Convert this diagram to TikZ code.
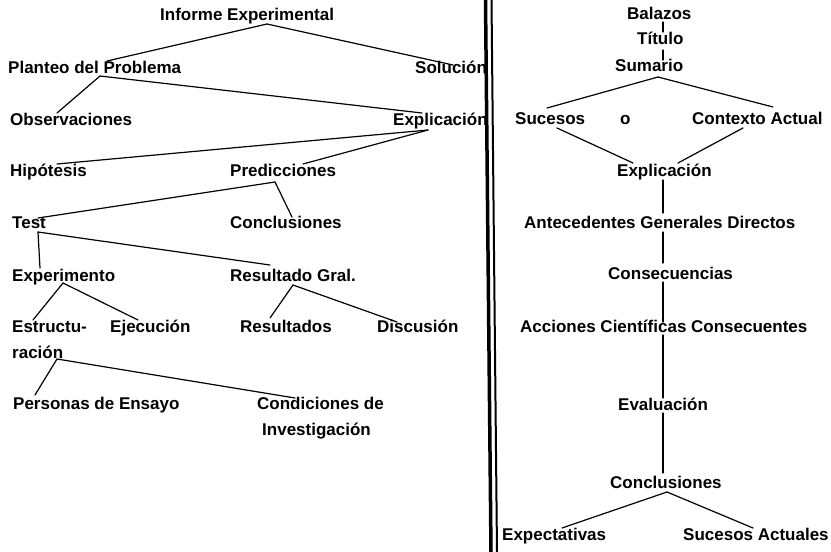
\documentclass[tikz,border=0pt]{standalone}
\usepackage{fontspec}
\setmainfont{Liberation Sans}
\begin{document}
\begin{tikzpicture}[x=1pt,y=-1pt,
  lbl/.style={anchor=base west, inner sep=0pt, font=\fontsize{17}{20}\selectfont\bfseries},
  link/.style={line width=1.2pt, line cap=round}]
\useasboundingbox (0,0) rectangle (831,552);

% ---- left tree: the experimental report ----
\node[lbl] (inf) at (160,20)  {Informe Experimental};
\node[lbl] (pla) at (8,73)    {Planteo del Problema};
\node[lbl] (sol) at (415,73)  {Solución};
\node[lbl] (obs) at (10,125)  {Observaciones};
\node[lbl] (exl) at (393,125) {Explicación};
\node[lbl] (hip) at (10,176)  {Hipótesis};
\node[lbl] (pre) at (230,176) {Predicciones};
\node[lbl] (tes) at (12,228)  {Test};
\node[lbl] (col) at (230,228) {Conclusiones};
\node[lbl] (exp) at (12,281)  {Experimento};
\node[lbl] (rgr) at (230,281) {Resultado Gral.};
\node[lbl] (est) at (12,332)  {Estructu-};
\node[lbl] (eje) at (110,332) {Ejecución};
\node[lbl] (res) at (240,332) {Resultados};
\node[lbl] (dis) at (377,332) {Discusión};
\node[lbl] (rac) at (12,358)  {ración};
\node[lbl] (per) at (13,409)  {Personas de Ensayo};
\node[lbl] (con) at (257,409) {Condiciones de};
\node[lbl] (inv) at (262,435) {Investigación};

\draw[link] ([xshift=107pt,yshift=-4pt]inf.base west) -- ([xshift=99pt,yshift=12pt]pla.base west);
\draw[link] ([xshift=107pt,yshift=-4pt]inf.base west) -- ([xshift=38pt,yshift=8pt]sol.base west);
\draw[link] ([xshift=92pt,yshift=-3pt]pla.base west) -- ([xshift=47pt,yshift=12pt]obs.base west);
\draw[link] ([xshift=92pt,yshift=-3pt]pla.base west) -- ([xshift=29pt,yshift=12pt]exl.base west);
\draw[link] ([xshift=35pt,yshift=-5pt]exl.base west) -- ([xshift=47pt,yshift=12pt]hip.base west);
\draw[link] ([xshift=35pt,yshift=-5pt]exl.base west) -- ([xshift=73pt,yshift=12pt]pre.base west);
\draw[link] ([xshift=45pt,yshift=-6pt]pre.base west) -- ([xshift=26pt,yshift=10pt]tes.base west);
\draw[link] ([xshift=45pt,yshift=-6pt]pre.base west) -- ([xshift=62pt,yshift=11pt]col.base west);
\draw[link] ([xshift=26pt,yshift=-4pt]tes.base west) -- ([xshift=28pt,yshift=13pt]exp.base west);
\draw[link] ([xshift=26pt,yshift=-4pt]tes.base west) -- ([xshift=40pt,yshift=16pt]rgr.base west);
\draw[link] ([xshift=51pt,yshift=-2pt]exp.base west) -- ([xshift=21pt,yshift=12pt]est.base west);
\draw[link] ([xshift=51pt,yshift=-2pt]exp.base west) -- ([xshift=28pt,yshift=12pt]eje.base west);
\draw[link] ([xshift=63pt,yshift=-4pt]rgr.base west) -- ([xshift=30pt,yshift=14pt]res.base west);
\draw[link] ([xshift=63pt,yshift=-4pt]rgr.base west) -- ([xshift=20pt,yshift=10pt]dis.base west);
\draw[link] ([xshift=45pt,yshift=-1pt]rac.base west) -- ([xshift=22pt,yshift=14pt]per.base west);
\draw[link] ([xshift=45pt,yshift=-1pt]rac.base west) -- ([xshift=38pt,yshift=11pt]con.base west);

% ---- double rule between the two schemes ----
\draw[line width=3.5pt] (485.5,0) -- (491,552);
\draw[line width=2pt] (491.5,0) -- (497,552);

% ---- right tree: the news report ----
\node[lbl] (bal) at (627,19)  {Balazos};
\node[lbl] (tit) at (637,44)  {Título};
\node[lbl] (sum) at (615,71)  {Sumario};
\node[lbl] (suc) at (515,124) {Sucesos};
\node[lbl] (oo)  at (620,124) {o};
\node[lbl] (ctx) at (692,124) {Contexto Actual};
\node[lbl] (exr) at (617,176) {Explicación};
\node[lbl] (ant) at (524,228) {Antecedentes Generales Directos};
\node[lbl] (cns) at (608,279) {Consecuencias};
\node[lbl] (acc) at (520,332) {Acciones Científicas Consecuentes};
\node[lbl] (eva) at (618,410) {Evaluación};
\node[lbl] (cor) at (610,488) {Conclusiones};
\node[lbl] (ext) at (502,540) {Expectativas};
\node[lbl] (sua) at (683,540) {Sucesos Actuales};

\draw[link] ([xshift=36pt,yshift=-3pt]bal.base west) -- ([xshift=26pt,yshift=12pt]tit.base west);
\draw[link] ([xshift=26pt,yshift=-6pt]tit.base west) -- ([xshift=48pt,yshift=11pt]sum.base west);
\draw[link] ([xshift=43pt,yshift=-6pt]sum.base west) -- ([xshift=32pt,yshift=16pt]suc.base west);
\draw[link] ([xshift=43pt,yshift=-6pt]sum.base west) -- ([xshift=81pt,yshift=17pt]ctx.base west);
\draw[link] ([xshift=42pt,yshift=-4pt]suc.base west) -- ([xshift=16pt,yshift=13pt]exr.base west);
\draw[link] ([xshift=51pt,yshift=-4pt]ctx.base west) -- ([xshift=61pt,yshift=13pt]exr.base west);
\draw[link] ([xshift=46pt,yshift=-4pt]exr.base west) -- ([xshift=139pt,yshift=15pt]ant.base west);
\draw[link] ([xshift=139pt,yshift=-4pt]ant.base west) -- ([xshift=55pt,yshift=16pt]cns.base west);
\draw[link] ([xshift=55pt,yshift=-3pt]cns.base west) -- ([xshift=143pt,yshift=10pt]acc.base west);
\draw[link] ([xshift=143pt,yshift=-3pt]acc.base west) -- ([xshift=45pt,yshift=12pt]eva.base west);
\draw[link] ([xshift=45pt,yshift=-3pt]eva.base west) -- ([xshift=53pt,yshift=15pt]cor.base west);
\draw[link] ([xshift=57pt,yshift=-4pt]cor.base west) -- ([xshift=60pt,yshift=12pt]ext.base west);
\draw[link] ([xshift=57pt,yshift=-4pt]cor.base west) -- ([xshift=70pt,yshift=12pt]sua.base west);
\end{tikzpicture}
\end{document}
